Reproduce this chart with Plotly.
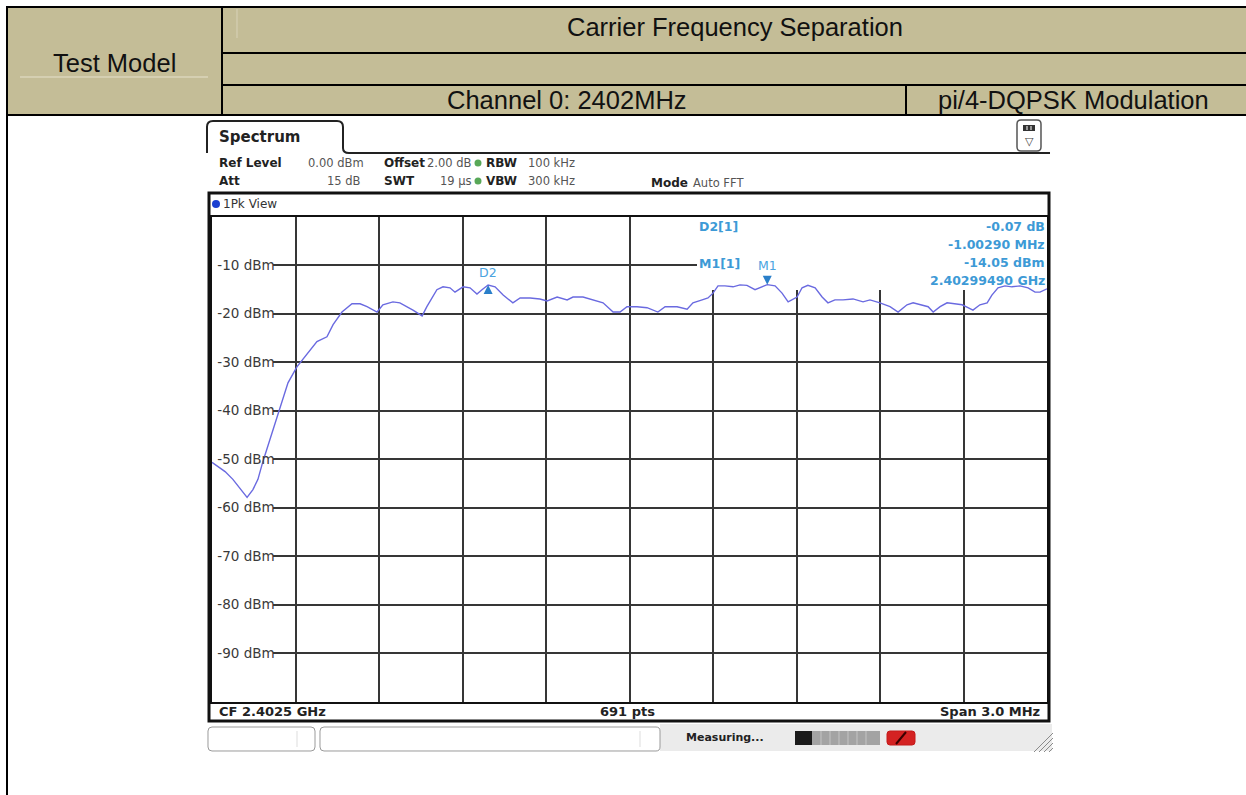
import plotly.graph_objects as go

W, H = 1246, 795

# trace: frequency (MHz) and level (dBm)
freq_mhz = [
    2401.000, 2401.047, 2401.075, 2401.126, 2401.147, 2401.165, 2401.183, 2401.216, 2401.244, 2401.273,
    2401.305, 2401.341, 2401.377, 2401.413, 2401.435, 2401.467, 2401.503, 2401.532, 2401.557, 2401.593,
    2401.614, 2401.650, 2401.675, 2401.722, 2401.755, 2401.772, 2401.808, 2401.830, 2401.855, 2401.873,
    2401.902, 2401.927, 2401.952, 2401.970, 2401.992, 2402.017, 2402.046, 2402.081, 2402.107, 2402.143,
    2402.178, 2402.204, 2402.240, 2402.276, 2402.297, 2402.333, 2402.369, 2402.405, 2402.441, 2402.466,
    2402.491, 2402.527, 2402.563, 2402.602, 2402.628, 2402.671, 2402.707, 2402.728, 2402.761, 2402.782,
    2402.800, 2402.818, 2402.843, 2402.872, 2402.897, 2402.922, 2402.951, 2402.976, 2402.995, 2403.023,
    2403.048, 2403.070, 2403.102, 2403.120, 2403.141, 2403.167, 2403.192, 2403.213, 2403.238, 2403.267,
    2403.303, 2403.339, 2403.364, 2403.400, 2403.436, 2403.465, 2403.497, 2403.519, 2403.551, 2403.573,
    2403.591, 2403.616, 2403.641, 2403.670, 2403.695, 2403.716, 2403.734, 2403.759, 2403.785, 2403.802,
    2403.824, 2403.849, 2403.874, 2403.903, 2403.932, 2403.957, 2403.975, 2404.000,
]
level_dbm = [
    -50.7, -52.6, -54.2, -57.9, -56.3, -54.2, -50.5, -44.6, -39.2, -34.3,
    -31.0, -28.5, -25.8, -24.8, -22.3, -19.7, -18.0, -18.0, -18.6, -19.7,
    -18.2, -17.6, -17.8, -19.3, -20.5, -18.6, -15.1, -14.5, -14.7, -15.6,
    -14.5, -14.7, -16.0, -15.1, -14.12, -14.5, -16.2, -17.8, -16.8, -16.8,
    -17.0, -17.4, -16.6, -17.2, -16.6, -16.6, -17.2, -17.8, -19.7, -19.7,
    -18.6, -18.6, -18.8, -19.7, -18.6, -18.6, -19.1, -17.8, -17.2, -16.8,
    -15.8, -14.3, -14.3, -14.5, -14.1, -14.2, -15.1, -14.5, -14.05, -14.3,
    -15.8, -17.6, -16.6, -14.7, -14.2, -14.7, -16.6, -17.8, -17.2, -17.2,
    -17.0, -17.6, -17.2, -17.8, -18.6, -19.7, -18.2, -17.8, -18.2, -18.6,
    -19.7, -18.6, -17.8, -18.0, -18.2, -18.8, -19.3, -18.2, -17.8, -16.2,
    -14.7, -14.3, -14.5, -14.3, -14.7, -15.6, -15.6, -14.9,
]

grid_levels = [-10, -20, -30, -40, -50, -60, -70, -80, -90]
grid_labels = ["-10 dBm", "-20 dBm", "-30 dBm", "-40 dBm", "-50 dBm",
               "-60 dBm", "-70 dBm", "-80 dBm", "-90 dBm"]

marker_names = ["M1", "D2"]
marker_freq_mhz = [2402.9949, 2401.9920]
marker_level_dbm = [-14.05, -14.12]

start_mhz, stop_mhz = 2401.0, 2404.0
ref_dbm, bottom_dbm = 0, -100
n_points = 691

TAN = "#C4BD97"
MK_TXT = "#3d9ad6"
MK_SYM = "#2a7fc9"
GRID = "#363636"

# screen position of the diagram (px)
PL, PR, PT, PB = 212, 1047, 216.5, 701.5


def X(px):
    return px / W


def Y(py):
    return 1 - py / H


def f(v):
    return f"{v:.5f}"


def px_to_mhz(px):
    return start_mhz + (px - PL) / (PR - PL) * (stop_mhz - start_mhz)


def py_to_dbm(py):
    return ref_dbm - (py - PT) / (PB - PT) * (ref_dbm - bottom_dbm)


def line(x0, y0, x1, y1, color="#000", width=2, layer="above"):
    return dict(type="line", xref="paper", yref="paper", x0=X(x0), y0=Y(y0), x1=X(x1), y1=Y(y1),
                line=dict(color=color, width=width), layer=layer)


def rect(x0, y0, x1, y1, fill="rgba(0,0,0,0)", color="rgba(0,0,0,0)", width=0, layer="above"):
    return dict(type="rect", xref="paper", yref="paper", x0=X(x0), y0=Y(y0), x1=X(x1), y1=Y(y1),
                fillcolor=fill, line=dict(color=color, width=width), layer=layer)


def circle(cx, cy, r, fill):
    return dict(type="circle", xref="paper", yref="paper", x0=X(cx - r), y0=Y(cy - r), x1=X(cx + r), y1=Y(cy + r),
                fillcolor=fill, line=dict(width=0))


def rrect(x0, y0, x1, y1, r, color="#999", width=1, fill="rgba(0,0,0,0)"):
    p = (f"M{f(X(x0))},{f(Y(y0 + r))} Q{f(X(x0))},{f(Y(y0))} {f(X(x0 + r))},{f(Y(y0))} "
         f"L{f(X(x1 - r))},{f(Y(y0))} Q{f(X(x1))},{f(Y(y0))} {f(X(x1))},{f(Y(y0 + r))} "
         f"L{f(X(x1))},{f(Y(y1 - r))} Q{f(X(x1))},{f(Y(y1))} {f(X(x1 - r))},{f(Y(y1))} "
         f"L{f(X(x0 + r))},{f(Y(y1))} Q{f(X(x0))},{f(Y(y1))} {f(X(x0))},{f(Y(y1 - r))} Z")
    return dict(type="path", xref="paper", yref="paper", path=p, fillcolor=fill, line=dict(color=color, width=width))


def text(x, y, s, size=12.5, color="#333", anchor="left", family="DejaVu Sans", bold=False):
    if bold:
        s = f"<b>{s}</b>"
    return dict(x=X(x), y=Y(y), xref="paper", yref="paper", text=s, showarrow=False,
                xanchor=anchor, yanchor="middle", borderpad=0,
                font=dict(family=family, size=size, color=color))


fig = go.Figure()

# empty traces so the two grid-only subplots get drawn
fig.add_trace(go.Scatter(x=[], y=[], xaxis="x", yaxis="y", hoverinfo="skip"))
fig.add_trace(go.Scatter(x=[], y=[], xaxis="x2", yaxis="y2", hoverinfo="skip"))

# trace and markers on the x3/y3 pair, above the grid subplots
fig.add_trace(go.Scatter(
    x=freq_mhz, y=level_dbm, mode="lines",
    line=dict(color="#6a6ae0", width=1.4),
    xaxis="x3", yaxis="y3", hoverinfo="skip",
))

symbols = {"M1": "arrow-down", "D2": "arrow-up"}
for name, mf, ml in zip(marker_names, marker_freq_mhz, marker_level_dbm):
    fig.add_trace(go.Scatter(
        x=[mf], y=[ml], mode="markers",
        marker=dict(symbol=symbols[name], size=9, color=MK_SYM),
        xaxis="x3", yaxis="y3", hoverinfo="skip",
    ))

shapes = []

# ---- report table header ----
shapes.append(rect(7, 7, 1246, 115, fill=TAN, layer="below"))
shapes.append(line(20, 77, 208, 77, color="#e6e1cc", width=1))
shapes.append(line(237, 9, 237, 38, color="#d8d2b8", width=1))
shapes.append(line(7, 7, 1246, 7, width=2))
shapes.append(line(222, 53, 1246, 53, width=2))
shapes.append(line(222, 85, 1246, 85, width=2))
shapes.append(line(7, 115, 1246, 115, width=2))
shapes.append(line(7, 6, 7, 795, width=2))
shapes.append(line(222, 7, 222, 115, width=2))
shapes.append(line(906, 85, 906, 115, width=2))

# ---- analyzer screenshot chrome ----
tab = (f"M{f(X(207))},{f(Y(153))} L{f(X(207))},{f(Y(127))} Q{f(X(207))},{f(Y(121))} {f(X(213))},{f(Y(121))} "
       f"L{f(X(337))},{f(Y(121))} Q{f(X(343))},{f(Y(121))} {f(X(343))},{f(Y(127))} "
       f"L{f(X(343))},{f(Y(148))} Q{f(X(343))},{f(Y(153))} {f(X(349))},{f(Y(153))} L{f(X(1050))},{f(Y(153))}")
shapes.append(dict(type="path", xref="paper", yref="paper", path=tab, line=dict(color="#222", width=2)))

shapes.append(rrect(1017, 120, 1041, 151, 4, color="#555", width=1.5, fill="white"))
shapes.append(rect(1023, 125, 1035, 131, fill="#333"))
shapes.append(line(1027, 126, 1027, 130, color="white", width=1))
shapes.append(line(1031, 126, 1031, 130, color="white", width=1))

shapes.append(circle(478, 163, 3.5, "#58a858"))
shapes.append(circle(478, 181, 3.5, "#58a858"))

shapes.append(rect(209, 193, 1049, 721, color="#111", width=3))
shapes.append(circle(216, 204, 4, "#1a3fd0"))

# status bar
shapes.append(rect(660, 724, 1052, 751, fill="#ebebeb", layer="below"))
shapes.append(rrect(208, 727, 315, 751, 4, color="#9a9a9a", width=1, fill="white"))
shapes.append(rrect(320, 727, 660, 751, 4, color="#9a9a9a", width=1, fill="white"))
shapes.append(line(297, 731, 297, 747, color="#dddddd", width=1))
shapes.append(line(640, 731, 640, 747, color="#dddddd", width=1))
shapes.append(rect(795, 731, 880, 745, fill="#a3a3a3"))
shapes.append(rect(795, 731, 812, 745, fill="#1a1a1a"))
for sx in [821, 830, 839, 848, 857, 866]:
    shapes.append(line(sx, 731, sx, 745, color="#c4c4c4", width=1))
shapes.append(rrect(887, 731, 915, 745, 3, color="#c41a1a", width=1, fill="#d42222"))
shapes.append(line(896, 744, 906, 732, color="#3a0000", width=2))
for k in range(4):
    shapes.append(line(1034 + 5 * k, 752, 1053, 733 + 5 * k, color="#8a8a8a", width=1))

annotations = []

tfont = "Liberation Sans, Arial"
annotations.append(text(735, 27, "Carrier Frequency Separation", size=25.5, color="#111", anchor="center", family=tfont))
annotations.append(text(115, 63, "Test Model", size=25.5, color="#111", anchor="center", family=tfont))
annotations.append(text(567, 100, "Channel 0: 2402MHz", size=25.5, color="#111", anchor="center", family=tfont))
annotations.append(text(1073, 100, "pi/4-DQPSK Modulation", size=25.5, color="#111", anchor="center", family=tfont))

annotations.append(text(218, 137, "Spectrum", size=15, color="#222", bold=True))
annotations.append(text(1029, 142, "▽", size=11, color="#444", anchor="center"))
hdr = [
    (218, 163, "Ref Level", True, "left"), (365, 163, "0.00 dBm", False, "right"),
    (383, 163, "Offset", True, "left"), (473, 163, "2.00 dB", False, "right"),
    (485, 163, "RBW", True, "left"), (527, 163, "100 kHz", False, "left"),
    (218, 181, "Att", True, "left"), (362, 181, "15 dB", False, "right"),
    (383, 181, "SWT", True, "left"), (473, 181, "19 µs", False, "right"),
    (485, 181, "VBW", True, "left"), (527, 181, "300 kHz", False, "left"),
    (650, 183, "Mode", True, "left"), (692, 183, "Auto FFT", False, "left"),
]
for hx, hy, s, b, a in hdr:
    annotations.append(text(hx, hy, s, size=12 if b else 11.5, color="#222" if b else "#555", anchor=a, bold=b))
annotations.append(text(222, 204, "1Pk View", size=12, color="#333"))

# marker readout, derived from the marker values
m1_f, d2_f = marker_freq_mhz
m1_l, d2_l = marker_level_dbm
annotations.append(text(698, 227, "D2[1]", size=12.5, color=MK_TXT, bold=True))
annotations.append(text(698, 264, "M1[1]", size=12.5, color=MK_TXT, bold=True))
annotations.append(text(1046, 227, f"{d2_l - m1_l:.2f} dB", size=12.5, color=MK_TXT, anchor="right", bold=True))
annotations.append(text(1046, 245, f"{d2_f - m1_f:.5f} MHz", size=12.5, color=MK_TXT, anchor="right", bold=True))
annotations.append(text(1046, 263, f"{m1_l:.2f} dBm", size=12.5, color=MK_TXT, anchor="right", bold=True))
annotations.append(text(1046, 281, f"{m1_f / 1000:.8f} GHz", size=12.5, color=MK_TXT, anchor="right", bold=True))

label_shift = {"M1": 19, "D2": 12}
for name, mf, ml in zip(marker_names, marker_freq_mhz, marker_level_dbm):
    annotations.append(dict(x=mf, y=ml, xref="x3", yref="y3", text=name, showarrow=False,
                            yshift=label_shift[name], xanchor="center", yanchor="middle",
                            font=dict(family="DejaVu Sans", size=12.5, color="#4aa3df")))

cf_ghz = (start_mhz + stop_mhz) / 2 / 1000
span = stop_mhz - start_mhz
annotations.append(text(218, 711, f"CF {cf_ghz:.4f} GHz", size=13, color="#222", bold=True))
annotations.append(text(627, 711, f"{n_points} pts", size=13, color="#222", anchor="center", bold=True))
annotations.append(text(1041, 711, f"Span {span:.1f} MHz", size=13, color="#222", anchor="right", bold=True))
annotations.append(text(685, 737, "Measuring...", size=11, color="#222", bold=True))

grid_axis = dict(showticklabels=False, ticks="", showgrid=True, gridcolor=GRID, gridwidth=1.5,
                 zeroline=False, showline=False)
dtick = (stop_mhz - start_mhz) / 10
BOX_L, BOX_B, LABEL_R = 697, 290, 273

fig.update_layout(
    width=W, height=H,
    margin=dict(l=0, r=0, t=0, b=0),
    paper_bgcolor="white", plot_bgcolor="rgba(0,0,0,0)",
    showlegend=False,
    shapes=shapes,
    annotations=annotations,
    # grid left of the marker readout (starts after the level labels)
    xaxis=dict(domain=[X(LABEL_R), X(BOX_L)], range=[px_to_mhz(LABEL_R), px_to_mhz(BOX_L)],
               tick0=start_mhz, dtick=dtick, anchor="y", **grid_axis),
    yaxis=dict(domain=[Y(PB), Y(PT)], range=[bottom_dbm, ref_dbm], tickvals=grid_levels,
               anchor="x", **grid_axis),
    # grid under the marker readout box
    xaxis2=dict(domain=[X(BOX_L), X(PR)], range=[px_to_mhz(BOX_L), stop_mhz],
                tick0=start_mhz, dtick=dtick, anchor="y2", **grid_axis),
    yaxis2=dict(domain=[Y(PB), Y(BOX_B)], range=[bottom_dbm, py_to_dbm(BOX_B)], tickvals=grid_levels,
                anchor="x2", **grid_axis),
    # main diagram: trace, frame, level labels
    xaxis3=dict(domain=[X(PL), X(PR)], range=[start_mhz, stop_mhz], anchor="y3",
                showticklabels=False, ticks="", showgrid=False, zeroline=False,
                showline=True, mirror=True, linecolor="#111", linewidth=2),
    yaxis3=dict(domain=[Y(PB), Y(PT)], range=[bottom_dbm, ref_dbm], anchor="x3",
                tickvals=grid_levels, ticktext=grid_labels,
                ticklabelposition="inside", ticks="", ticklabelstandoff=5,
                tickfont=dict(family="DejaVu Sans", size=13.5, color="#3a3a3a"),
                showgrid=False, zeroline=False,
                showline=True, mirror=True, linecolor="#111", linewidth=2),
)

fig.write_html("out.html", config={"displayModeBar": False},
               post_script="document.body.style.margin='0';")
